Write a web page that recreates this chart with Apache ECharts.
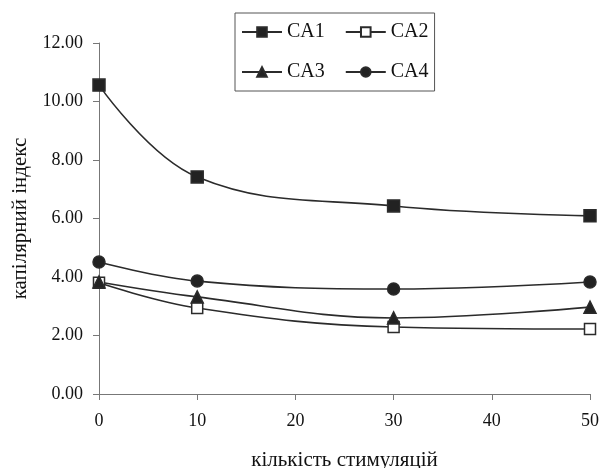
<!DOCTYPE html>
<html><head><meta charset="utf-8">
<script src="https://cdn.jsdelivr.net/npm/echarts@6/dist/echarts.min.js"></script>
<style>html,body{margin:0;padding:0;background:#fff}#c{width:600px;height:468px}</style>
</head><body><div id="c"></div>
<script>
const xValues = [0, 10, 30, 50];
const CA1 = [10.56, 7.42, 6.43, 6.09];
const CA2 = [3.8, 2.94, 2.29, 2.22];
const CA3 = [3.83, 3.32, 2.6, 2.97];
const CA4 = [4.51, 3.86, 3.59, 3.83];
const seriesNames = ['CA1', 'CA2', 'CA3', 'CA4'];

const font = 'Liberation Serif';
const lineColor = '#2b2b2b';
function mk(name, vals, symbol, fill, size) {
  return {
    name, type: 'line', smooth: 0.4,
    data: xValues.map((x, i) => [x, vals[i]]),
    symbol, symbolSize: size,
    lineStyle: { color: lineColor, width: 1.6 },
    itemStyle: { color: fill, borderColor: lineColor, borderWidth: 1.5 }
  };
}
const chart = echarts.init(document.getElementById('c'));
chart.setOption({
  animation: false,
  backgroundColor: '#fff',
  grid: { left: 99, right: 10, top: 43, bottom: 74, outerBoundsMode: 'none', containLabel: false },
  legend: {
    data: seriesNames, left: 235, top: 13, width: 192,
    orient: 'horizontal', borderColor: '#555', borderWidth: 1,
    padding: [9, 6, 9, 6], itemGap: 20, itemWidth: 40, itemHeight: 12,
    textStyle: { fontFamily: font, fontSize: 20, color: '#111' }
  },
  xAxis: {
    type: 'value', min: 0, max: 50, interval: 10,
    name: 'кількість стимуляцій', nameLocation: 'middle', nameGap: 56,
    nameTextStyle: { fontFamily: font, fontSize: 21, color: '#111' },
    axisLine: { lineStyle: { color: '#777' } },
    axisTick: { show: true, length: 6, lineStyle: { color: '#777' } },
    axisLabel: { fontFamily: font, fontSize: 18, color: '#111', margin: 18 },
    splitLine: { show: false }
  },
  yAxis: {
    type: 'value', min: 0, max: 12, interval: 2,
    name: 'капілярний індекс', nameLocation: 'middle', nameGap: 68,
    nameTextStyle: { fontFamily: font, fontSize: 21, color: '#111' },
    axisLine: { show: true, lineStyle: { color: '#777' } },
    axisTick: { show: true, length: 6, lineStyle: { color: '#777' } },
    axisLabel: { fontFamily: font, fontSize: 18, color: '#111', margin: 16, formatter: v => v.toFixed(2) },
    splitLine: { show: false }
  },
  series: [
    mk('CA1', CA1, 'rect', '#222', 12),
    mk('CA2', CA2, 'rect', '#fff', 11),
    mk('CA3', CA3, 'triangle', '#222', 12),
    mk('CA4', CA4, 'circle', '#222', 12)
  ]
});
</script></body></html>
